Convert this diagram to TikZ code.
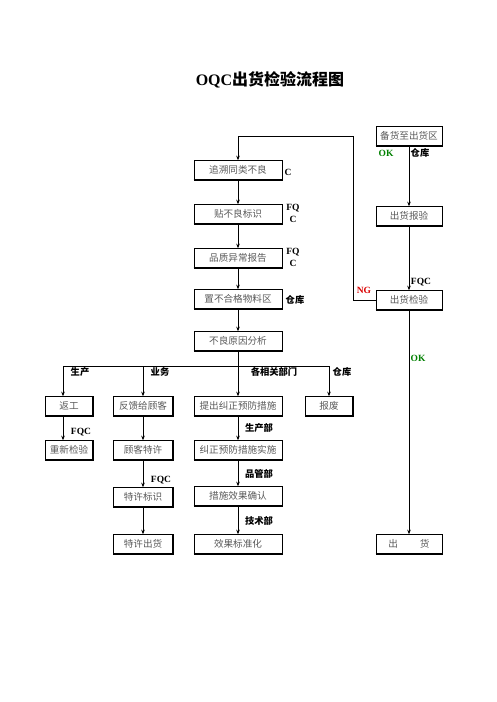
\documentclass[tikz,border=0pt]{standalone}
\usepackage{fontspec}
\setmainfont{Liberation Serif}
\newfontfamily\cjk{Noto Sans CJK SC}
\usetikzlibrary{arrows.meta}

\begin{document}
\begin{tikzpicture}[x=1pt,y=-1pt,
  boxstyle/.style={draw,line width=0.6pt,minimum height=19pt,inner sep=0pt,
    font=\cjk\fontsize{9.6}{11}\selectfont,text=black!65},
  tagstyle/.style={font=\cjk\bfseries\fontsize{9.3}{10}\selectfont},
  engstyle/.style={font=\bfseries\fontsize{9.5}{10}\selectfont},
  >={Stealth[length=4.5pt,width=3.6pt]},line width=0.6pt]
  \useasboundingbox (0,0) rectangle (496,702);

  \node (title) at (270,80) {\fontsize{16}{18}\selectfont\bfseries OQC\cjk 出货检验流程图};

  % right column
  \foreach \nm/\y/\txt in {bh/136/备货至出货区, bj/216/出货报验, jy/300/出货检验,
                           ch/544/出\hspace{22pt}货}
     \node [boxstyle,minimum width=66pt] (\nm) at (409,\y) {\txt};

  % middle column
  \foreach \nm/\y/\txt in {zs/170/追溯同类不良, tb/214/贴不良标识, pz/258/品质异常报告,
                           zb/299/置不合格物料区, fx/341/不良原因分析, tc/406/提出纠正预防措施,
                           ss/450/纠正预防措施实施, qr/496/措施效果确认, bz/544/效果标准化}
     \node [boxstyle,minimum width=88pt] (\nm) at (238,\y) {\txt};

  % left columns
  \node [boxstyle,minimum width=47pt] (fg) at (69,406) {返工};
  \node [boxstyle,minimum width=47pt] (cj) at (69,450) {重新检验};
  \foreach \nm/\y/\txt in {fk/406/反馈给顾客, tx/450/顾客特许, bs/497/特许标识, tch/544/特许出货}
     \node [boxstyle,minimum width=59pt] (\nm) at (143,\y) {\txt};
  \node [boxstyle,minimum width=47pt] (bf) at (329,406) {报废};

  % heavy bottom and right edges
  \foreach \n in {bh,bj,jy,ch,zs,tb,pz,zb,fx,tc,ss,qr,bz,fg,cj,fk,tx,bs,tch,bf}
     \draw [line width=1.6pt] (\n.south west) -- (\n.south east) -- (\n.north east);

  % main flow
  \draw [->] (bh) -- (bj);
  \draw [->] (bj) -- (jy);
  \draw [->] (jy) -- (ch);
  \foreach \a/\b in {zs/tb,tb/pz,pz/zb,zb/fx,fx/tc,tc/ss,ss/qr,qr/bz,fk/tx,tx/bs,bs/tch}
     \draw [->] (\a) -- (\b);

  % NG loop
  \coordinate (lp) at (353,136);
  \draw [->] (jy.west) -| (lp) -| (zs.north);

  % branches
  \coordinate (brL) at (63,366);
  \coordinate (brR) at (329,366);
  \draw (brL) -- (brR);
  \draw [->] (brL) -- (brL |- fg.north);
  \draw [->] (brL |- fg.south) -- (brL |- cj.north);
  \draw [->] (fk.north |- brL) -- (fk.north);
  \draw [->] (bf.north |- brL) -- (bf.north);

  % labels
  \node [engstyle] (c1) at (288,172) {C};
  \node [engstyle,align=center,font=\bfseries\fontsize{9.5}{12}\selectfont] (c2) at (293,213) {FQ\\C};
  \node [engstyle,align=center,font=\bfseries\fontsize{9.5}{12}\selectfont] (c3) at (293,257) {FQ\\C};
  \node [tagstyle] (k1) at (295,300) {仓库};
  \node [engstyle,text=green!50!black] (ok1) at (386,153) {OK};
  \node [tagstyle] (k2) at (420,153) {仓库};
  \node [engstyle] (q1) at (421,282) {FQC};
  \node [engstyle,text=red!85!black] (ng) at (364,290) {NG};
  \node [engstyle,text=green!50!black] (ok2) at (418,358) {OK};
  \node [tagstyle] (s1) at (80,372) {生产};
  \node [tagstyle] (s2) at (160,372) {业务};
  \node [tagstyle] (s3) at (274,372) {各相关部门};
  \node [tagstyle] (s4) at (342,372) {仓库};
  \node [engstyle] (q2) at (81,432) {FQC};
  \node [engstyle] (q3) at (161,480) {FQC};
  \node [tagstyle] (d1) at (259,428) {生产部};
  \node [tagstyle] (d2) at (259,474) {品管部};
  \node [tagstyle] (d3) at (259,521) {技术部};
\end{tikzpicture}
\end{document}
